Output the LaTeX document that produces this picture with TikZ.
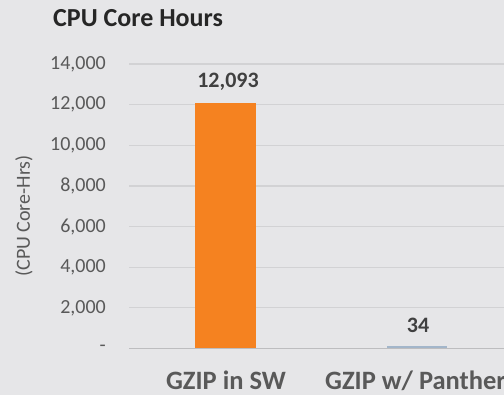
\documentclass[tikz,border=0pt]{standalone}
\usepackage{fontspec}
\setmainfont{Carlito}
\definecolor{bg}{HTML}{E6E6E8}
\definecolor{grid}{HTML}{D2D2D4}
\definecolor{axis}{HTML}{BDBDBF}
\definecolor{ticktxt}{HTML}{595959}
\definecolor{valtxt}{HTML}{404040}
\definecolor{titletxt}{HTML}{262626}
\definecolor{barorange}{HTML}{F58220}
\definecolor{barblue}{HTML}{A3B6CA}
\begin{document}
\begin{tikzpicture}[x=1pt,y=1pt,
  ticklab/.style={anchor=east,inner sep=0pt,text=ticktxt,font=\fontsize{20}{22}\selectfont},
  gridline/.style={draw=grid,line width=1.2pt},
  catlab/.style={anchor=base,inner sep=0pt,text=ticktxt,font=\fontsize{26.5}{28}\selectfont\bfseries},
  vallab/.style={anchor=base,inner sep=0pt,text=valtxt,font=\fontsize{22}{24}\selectfont\bfseries}]
\fill[bg] (0,0) rectangle (504,395);
\useasboundingbox (0,0) rectangle (504,395);
% title
\node[anchor=base west,inner sep=0pt,text=titletxt,font=\fontsize{26}{28}\selectfont\bfseries] (title) at (53,368) {CPU Core Hours};
% gridlines and tick labels (y_img = 348.5 - v*284.5/14000)
\foreach \v/\lab [count=\i] in {2/{2,000},4/{4,000},6/{6,000},8/{8,000},10/{10,000},12/{12,000},14/{14,000}}{
  \pgfmathsetmacro{\yy}{46.5+\v*284.5/14}
  \coordinate (gl\i) at (129,\yy);
  \coordinate (gr\i) at (504,\yy);
  \draw[gridline] (gl\i) -- (gr\i);
  \node[ticklab] (t\i) at (106,\yy) {\lab};
}
\coordinate (a0) at (129,46.5);
\coordinate (a1) at (504,46.5);
\draw[draw=axis,line width=1.2pt] (a0) -- (a1);
\node[ticklab] (t0) at (106,46.5) {-};
% axis title
\node[rotate=90,inner sep=0pt,text=ticktxt,font=\fontsize{20}{22}\selectfont] (ytitle) at (24,179) {(CPU Core-Hrs)};
% bars
\pgfmathsetmacro{\htop}{46.5+12.093*284.5/14}
\fill[barorange] (195,46.5) rectangle (255.5,\htop);
\fill[barblue] (387,46.8) rectangle (447,48.6);
% value labels
\node[vallab] (v1) at (228,307) {12,093};
\node[vallab] (v2) at (418,62) {34};
% category labels
\node[catlab] (c1) at (226,5) {GZIP in SW};
\node[anchor=base west,inner sep=0pt,text=ticktxt,font=\fontsize{26.5}{28}\selectfont\bfseries] (c2) at (325,5) {GZIP w/ Panther};
\end{tikzpicture}
\end{document}
